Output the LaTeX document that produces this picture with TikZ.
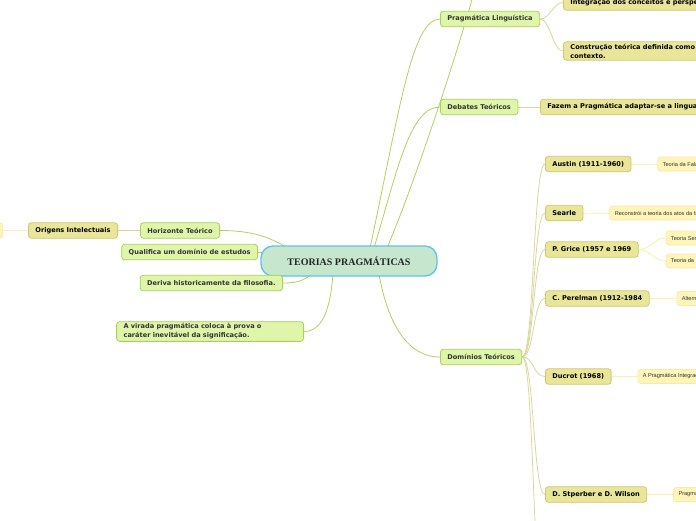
\documentclass[tikz,border=0pt]{standalone}
\usepackage{fontspec}
\setmainfont{DejaVu Sans}
\newfontfamily\leaffont{Liberation Sans}
\newfontfamily\titlefont{Liberation Serif}
\usetikzlibrary{positioning, backgrounds, calc}

\definecolor{topicfill}{HTML}{C6E6CD}
\definecolor{topicline}{HTML}{5EC3EA}
\definecolor{subfill}{HTML}{DFF6AA}
\definecolor{subline}{HTML}{A8D15A}
\definecolor{olivefill}{HTML}{E9E69A}
\definecolor{oliveline}{HTML}{CFC872}
\definecolor{leaffill}{HTML}{FFF5B8}
\definecolor{leafline}{HTML}{F8E9A6}
\definecolor{linkgreen}{HTML}{B0D062}
\definecolor{linkolive}{HTML}{DAD69C}
\definecolor{linkleaf}{HTML}{FBEFAA}

\begin{document}
\begin{tikzpicture}[x=1pt, y=-1pt,
	topic/.style={rectangle, draw=topicline, fill=topicfill, line width=1.3pt, rounded corners=12pt, minimum width=176pt, minimum height=30pt, font=\titlefont\bfseries\fontsize{10}{12}\selectfont, text=black!85},
	sub/.style={rectangle, draw=subline, fill=subfill, line width=0.8pt, rounded corners=3pt, inner xsep=7pt, inner ysep=2pt, minimum height=15.5pt, align=left, font=\bfseries\fontsize{6.6}{9}\selectfont, text=black!80},
	subsub/.style={sub, draw=oliveline, fill=olivefill, text=black},
	leaf/.style={rectangle, draw=leafline, fill=leaffill, line width=0.6pt, rounded corners=2.5pt, inner xsep=5pt, inner ysep=0pt, minimum height=14pt, font=\leaffont\fontsize{5.6}{7}\selectfont, text=black!80},
	linkA/.style={draw=linkgreen, line width=0.8pt},
	linkB/.style={draw=linkolive, line width=0.8pt},
	linkC/.style={draw=linkleaf, line width=0.8pt}
]
\clip (0,0) rectangle (696,520);

% centre
\node[topic] (topic) at (349,261) {TEORIAS PRAGMÁTICAS};

% left side
\node[sub, anchor=east] (horiz) at (220,230.5) {Horizonte Teórico};
\node[subsub, left=22pt of horiz] (orig) {Origens Intelectuais};
\node[leaf, left=25pt of orig, minimum width=40pt, minimum height=15pt] (origleaf) {};
\node[sub, anchor=east] (qual) at (258,252) {Qualifica um domínio de estudos};
\node[sub, anchor=east] (deriv) at (283,283) {Deriva historicamente da filosofia.};
\node[sub, anchor=east, text width=173pt] (virada) at (304,331.5) {A virada pragmática coloca à prova o\\caráter inevitável da significação.};

% right side
\node[sub, anchor=west] (prag) at (440,19) {Pragmática Linguística};
\node[subsub, anchor=west] (integ) at (563,2.5) {Integração dos conceitos e perspectivas};
\node[subsub, anchor=west, text width=150pt] (constr) at (563,51) {Construção teórica definida como\\contexto.};
\node[sub, anchor=west] (debat) at (440,107) {Debates Teóricos};
\node[subsub, anchor=west] (fazem) at (540,107) {Fazem a Pragmática adaptar-se a linguagem};
\node[sub, anchor=west] (domin) at (440,357) {Domínios Teóricos};
\coordinate (above) at (482,-40);
\coordinate (domnext) at (545,620);

% dominios teoricos
\node[subsub, anchor=west] (austin) at (545,164) {Austin (1911-1960)};
\node[subsub, anchor=west] (searle) at (545,213) {Searle};
\node[subsub, anchor=west] (grice) at (545,249.5) {P. Grice (1957 e 1969};
\node[subsub, anchor=west] (perel) at (545,298.5) {C. Perelman (1912-1984};
\node[subsub, anchor=west] (ducrot) at (545,376.5) {Ducrot (1968)};
\node[subsub, anchor=west] (sperb) at (545,494.5) {D. Stperber e D. Wilson};

\node[leaf, right=26pt of austin] (austinleaf) {Teoria da Fala};
\node[leaf, right=26pt of searle] (searleleaf) {Reconstrói a teoria dos atos da fala};
\node[leaf, anchor=west] (griceA) at ([xshift=27pt, yshift=11.5pt]grice.east) {Teoria Semântica};
\node[leaf, anchor=west] (griceB) at ([xshift=27pt, yshift=-11.5pt]grice.east) {Teoria da Implicatura};
\node[leaf, right=27pt of perel] (perelleaf) {Alternativa retórica};
\node[leaf, right=26pt of ducrot] (ducrotleaf) {A Pragmática Integrada};
\node[leaf, right=26pt of sperb] (sperbleaf) {Pragmática cognitiva};

\begin{scope}[on background layer]
\draw[linkA] (horiz.east) .. controls +(40,0) and +(-15,-8) .. ($(topic.center)+(-59,-12)$);
\draw[linkA] (qual.east) -- ($(qual.east -| topic.west)+(6,0)$);
\draw[linkA] (deriv.east) .. controls +(18,0) and +(-8,6) .. ($(topic.center)+(-36,12)$);
\draw[linkA] (virada.east) .. controls +(22,0) and +(-2,25) .. ($(topic.center)+(-16,13)$);
\draw[linkA] ($(topic.center)+(30,13)$) .. controls +(8,45) and +(-35,0) .. (domin.west);
\draw[linkA] ($(topic.center)+(21,-13)$) .. controls +(30,-140) and +(-28,0) .. (prag.west);
\draw[linkA] ($(topic.center)+(25,-13)$) .. controls +(24,-80) and +(-30,0) .. (debat.west);
\draw[linkA] ($(topic.center)+(38,-13)$) .. controls +(30,-70) and +(-10,50) .. (above);

\draw[linkB] (horiz.west) -- (orig.east);
\draw[linkC] (orig.west) -- (origleaf.east);
\draw[linkB] (debat.east) -- (fazem.west);

\foreach \i in {integ, constr}
	\draw[linkB] (prag.east) .. controls +(10,0) and +(-10,0) .. (\i.west);

\foreach \i in {austin, searle, grice, perel, ducrot, sperb}
	\draw[linkB] (domin.east) .. controls +(12,0) and +(-12,0) .. (\i.west);
\draw[linkB] (domin.east) .. controls +(12,0) and +(-12,0) .. (domnext);

\foreach \i/\j in {austin/austinleaf, searle/searleleaf, grice/griceA, grice/griceB, perel/perelleaf, ducrot/ducrotleaf, sperb/sperbleaf}
	\draw[linkC] (\i.east) .. controls +(12,0) and +(-12,0) .. (\j.west);
\end{scope}

\end{tikzpicture}
\end{document}
